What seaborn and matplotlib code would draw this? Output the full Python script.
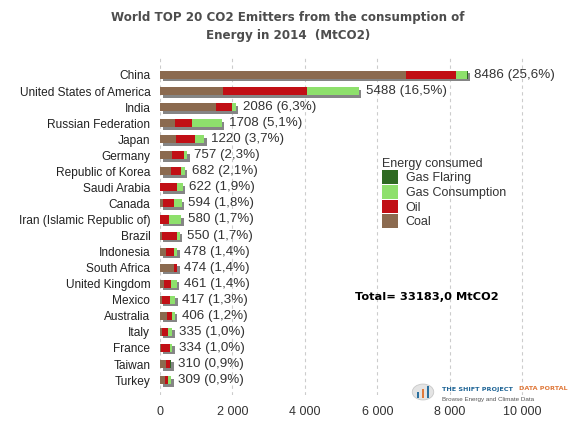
import numpy as np
import pandas as pd
import seaborn as sns
import matplotlib.pyplot as plt
from matplotlib import patheffects as pe
from matplotlib.patches import Patch, Circle, Rectangle

# values (MtCO2, 2014)
countries = ['China', 'United States of America', 'India', 'Russian Federation', 'Japan',
             'Germany', 'Republic of Korea', 'Saudi Arabia', 'Canada',
             'Iran (Islamic Republic of)', 'Brazil', 'Indonesia', 'South Africa',
             'United Kingdom', 'Mexico', 'Australia', 'Italy', 'France', 'Taiwan', 'Turkey']
coal = [6780, 1730, 1545, 410, 440, 330, 300, 0, 90, 5, 65, 160, 390, 115, 60, 205, 60, 30, 160, 125]
oil = [1400, 2320, 445, 470, 520, 325, 275, 460, 295, 240, 415, 230, 80, 190, 205, 125, 165, 245, 110, 85]
gas = [300, 1430, 96, 820, 260, 102, 107, 162, 209, 335, 70, 88, 4, 156, 152, 76, 110, 59, 0, 99]
flaring = [6, 8, 0, 8, 0, 0, 0, 0, 0, 0, 0, 0, 0, 0, 0, 0, 0, 0, 40, 0]
world_total = 33183.0

colors = {'Gas Flaring': '#2e6a22', 'Gas Consumption': '#8ee06c',
          'Oil': '#c10f15', 'Coal': '#8b6a4f'}

df = pd.DataFrame({'country': countries, 'coal': coal, 'oil': oil, 'gas': gas, 'flaring': flaring})
df['c1'] = df['coal']
df['c2'] = df['c1'] + df['oil']
df['c3'] = df['c2'] + df['gas']
df['c4'] = df['c3'] + df['flaring']

sns.set_style('white')
plt.rcParams['font.family'] = ['Liberation Sans', 'DejaVu Sans']

fig = plt.figure(figsize=(5.8, 4.29), dpi=100)
ax = fig.add_axes([160/580, 1-395/429, 395/580, 338/429])

layers = [('c4', 'Gas Flaring'), ('c3', 'Gas Consumption'), ('c2', 'Oil'), ('c1', 'Coal')]
for i, (col, name) in enumerate(layers):
    n_before = len(ax.patches)
    sns.barplot(data=df, y='country', x=col, color=colors[name], orient='h',
                width=0.5, saturation=1, linewidth=0, edgecolor='none', ax=ax)
    if i == 0:
        # grey drop shadow under the whole bar
        for p in ax.patches[n_before:]:
            p.set_path_effects([pe.SimplePatchShadow(offset=(1.8, -1.8), shadow_rgbFace='#858585', alpha=1),
                                pe.Normal()])

# value labels
for i, t in enumerate(df['c4']):
    pct = t / world_total * 100
    lab = f"{int(t)} ({pct:.1f}%)".replace('.', ',')
    ax.annotate(lab, xy=(t, i), xytext=(5, 0), textcoords='offset points',
                va='center', ha='left', fontsize=9.6, color='#333333')

ax.set_xlim(0, 10900)
ax.set_ylim(19.93, -1.12)
ticks = list(range(0, 10001, 2000))
ax.set_xticks(ticks)
ax.set_xticklabels([f"{v:,}".replace(',', ' ') for v in ticks])
ax.set_xlabel('')
ax.set_ylabel('')
ax.grid(axis='x', linestyle=(0, (3, 3)), color='#cccccc', lw=0.8)
ax.grid(axis='y', visible=False)
ax.set_axisbelow(True)
for s in ax.spines.values():
    s.set_visible(False)
ax.tick_params(axis='y', length=0, pad=7, labelsize=8.6, labelcolor='#222222')
ax.tick_params(axis='x', length=0, pad=8, labelsize=9, labelcolor='#333333')

# legend
handles = [Patch(facecolor=colors[k], edgecolor='none') for k in colors]
leg = fig.legend(handles, list(colors.keys()), title='Energy consumed', loc='upper left',
                 bbox_to_anchor=(373/580, 1-149/429), frameon=False, fontsize=9,
                 title_fontsize=9, handlelength=1.3, handleheight=1.3, labelspacing=0.05,
                 handletextpad=0.6, alignment='left', borderpad=0.2)
for t in leg.get_texts():
    t.set_color('#333333')
leg.get_title().set_color('#333333')

fig.text(355/580, 1-297/429, 'Total= 33183,0 MtCO2', fontsize=8.2, fontweight='bold',
         family='DejaVu Sans', va='center', ha='left', color='black')

fig.text(288/580, 1-17/429, 'World TOP 20 CO2 Emitters from the consumption of',
         fontsize=8.6, fontweight='bold', family='DejaVu Sans', color='#4d4d4d', ha='center', va='center')
fig.text(288/580, 1-35/429, 'Energy in 2014  (MtCO2)',
         fontsize=8.6, fontweight='bold', family='DejaVu Sans', color='#4d4d4d', ha='center', va='center')

# data portal watermark
fig.patches.append(Circle((423/580, 1-392/429), 0.0185, transform=fig.transFigure,
                          facecolor='#e4e4e4', edgecolor='#c8c8c8', lw=0.6))
for dx, h, c in [(-5, 6, '#2a6f9e'), (0, 9, '#e0793b'), (5, 12, '#2a6f9e')]:
    fig.patches.append(Rectangle(((423 + dx - 1.2)/580, (429-398)/429), 2.4/580, h/429,
                                 transform=fig.transFigure, color=c, lw=0))
fig.text(442/580, 1-389/429, 'THE SHIFT PROJECT', fontsize=4.6, fontweight='bold',
         family='DejaVu Sans', color='#1f6596', va='center', ha='left')
fig.text(519/580, 1-389/429, 'DATA PORTAL', fontsize=4.6, fontweight='bold',
         family='DejaVu Sans', color='#e0793b', va='center', ha='left')
fig.text(442/580, 1-399/429, 'Browse Energy and Climate Data', fontsize=4.5,
         color='#555555', va='center', ha='left')

fig.savefig('out.png', dpi=100)
